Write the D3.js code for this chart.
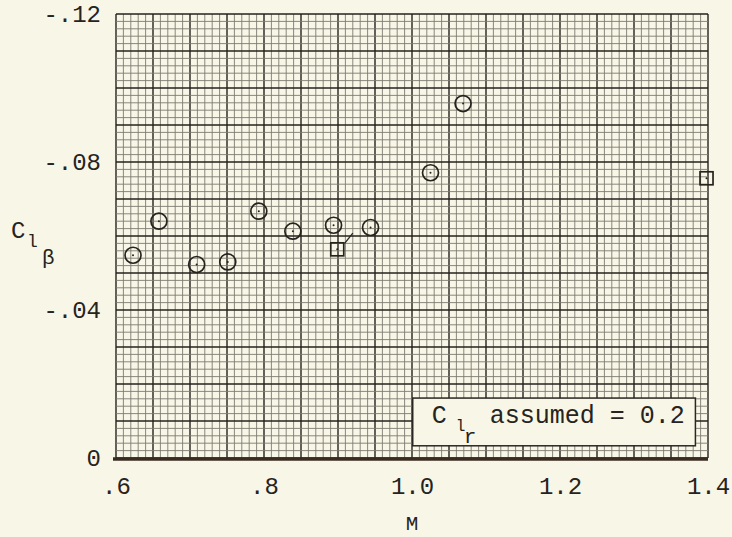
<!DOCTYPE html>
<html>
<head>
<meta charset="utf-8">
<script src="https://cdn.jsdelivr.net/npm/d3@7/dist/d3.min.js"></script>
<style>
  html, body { margin: 0; padding: 0; background: #f8f6e7; }
  svg { display: block; }
  text { font-family: "Courier New", "Nimbus Mono PS", "FreeMono", "Liberation Mono", monospace; fill: #262320; }
</style>
</head>
<body>
<svg id="chart" width="732" height="537"></svg>
<script>
// Measured points (open circles) and the two square points
const circleMach = [0.623, 0.658, 0.709, 0.751, 0.793, 0.839, 0.894, 0.944, 1.025, 1.069];
const circleClb  = [-0.0548, -0.064, -0.0523, -0.053, -0.0667, -0.0613, -0.0629, -0.0623, -0.0771, -0.0958];
const squareMach = [0.899, 1.398];
const squareClb  = [-0.0564, -0.0756];

const xTicks = [0.6, 0.8, 1.0, 1.2, 1.4];
const xTickLabels = [".6", ".8", "1.0", "1.2", "1.4"];
const yTicks = [0, -0.04, -0.08, -0.12];
const yTickLabels = ["0", "-.04", "-.08", "-.12"];

// leader from the lower square toward the circle, and the note box (data units)
const leaderMach = [0.909, 0.92];
const leaderClb  = [-0.058, -0.0608];
const noteBoxMach = [1.001, 1.383];
const noteBoxClb  = [-0.0162, -0.0033];

const svg = d3.select("#chart");
const x = d3.scaleLinear().domain([0.6, 1.4]).range([116, 708]);
const y = d3.scaleLinear().domain([0, -0.12]).range([458, 14]);

// graph paper: fine lines each 0.01 in M and 0.002 in C, heavy every fifth
const grid = svg.append("g").attr("class", "grid");
const vIdx = d3.range(0, 81);
const hIdx = d3.range(0, 61);
grid.selectAll("line.v").data(vIdx).enter().append("line")
  .attr("class", "v")
  .attr("x1", (i) => x(0.6 + i * 0.01)).attr("x2", (i) => x(0.6 + i * 0.01))
  .attr("y1", y(0)).attr("y2", y(-0.12))
  .attr("stroke", (i) => (i % 5 === 0 ? "#24221d" : "#7d7a71"))
  .attr("stroke-width", (i) => (i % 5 === 0 ? 1.4 : 0.9));
grid.selectAll("line.h").data(hIdx).enter().append("line")
  .attr("class", "h")
  .attr("y1", (i) => y(-i * 0.002)).attr("y2", (i) => y(-i * 0.002))
  .attr("x1", x(0.6)).attr("x2", x(1.4))
  .attr("stroke", (i) => (i % 5 === 0 ? "#24221d" : "#7d7a71"))
  .attr("stroke-width", (i) => (i % 5 === 0 ? 1.4 : 0.9));

// heavy zero line at the bottom
svg.append("line")
  .attr("x1", x(0.6) - 3).attr("x2", x(1.4))
  .attr("y1", y(0) + 1).attr("y2", y(0) + 1)
  .attr("stroke", "#3a2c22").attr("stroke-width", 3.5);

// note box, covering the paper
const nb = svg.append("g").attr("class", "note");
nb.append("rect")
  .attr("x", x(noteBoxMach[0])).attr("y", y(noteBoxClb[0]))
  .attr("width", x(noteBoxMach[1]) - x(noteBoxMach[0]))
  .attr("height", y(noteBoxClb[1]) - y(noteBoxClb[0]))
  .attr("fill", "#f8f6e7").attr("stroke", "#2a2723").attr("stroke-width", 1.5);
const nx = x(noteBoxMach[0]), ny = y(noteBoxClb[0]);
nb.append("text").attr("x", nx + 19).attr("y", ny + 25).attr("font-size", 25).text("C");
nb.append("text").attr("x", nx + 43).attr("y", ny + 33).attr("font-size", 16).text("l");
nb.append("text").attr("x", nx + 51).attr("y", ny + 45).attr("font-size", 21).text("r");
nb.append("text")
  .attr("x", nx + 77).attr("y", ny + 25)
  .attr("font-size", 25).text("assumed = 0.2");

// axes
const xAxis = svg.append("g")
  .attr("transform", `translate(0,${y(0)})`)
  .call(d3.axisBottom(x).tickValues(xTicks).tickFormat((d, i) => xTickLabels[i]).tickSize(0).tickPadding(19));
xAxis.select(".domain").remove();
xAxis.attr("font-family", null);
xAxis.selectAll("text").attr("font-size", 24).attr("fill", "#262320");

const yAxis = svg.append("g")
  .attr("transform", `translate(${x(0.6)},0)`)
  .call(d3.axisLeft(y).tickValues(yTicks).tickFormat((d, i) => yTickLabels[i]).tickSize(0).tickPadding(15));
yAxis.select(".domain").remove();
yAxis.attr("font-family", null);
yAxis.selectAll("text").attr("font-size", 24).attr("fill", "#262320");

svg.append("text").attr("x", 412).attr("y", 530)
  .attr("text-anchor", "middle").attr("font-size", 21).text("M");

svg.append("text").attr("x", 11).attr("y", 238).attr("font-size", 24).text("C");
svg.append("text").attr("x", 27).attr("y", 247).attr("font-size", 18).text("l");
svg.append("text").attr("x", 42).attr("y", 264).attr("font-size", 21).text("β");

// leader line
svg.append("line")
  .attr("x1", x(leaderMach[0])).attr("y1", y(leaderClb[0]))
  .attr("x2", x(leaderMach[1])).attr("y2", y(leaderClb[1]))
  .attr("stroke", "#2a2723").attr("stroke-width", 1.3);

// points
const circles = circleMach.map((m, i) => ({ m, c: circleClb[i] }));
const pts = svg.append("g").selectAll("g.pt").data(circles).enter().append("g")
  .attr("transform", (d) => `translate(${x(d.m)},${y(d.c)})`);
pts.append("circle").attr("r", 8).attr("fill", "none")
  .attr("stroke", "#26231f").attr("stroke-width", 1.7);
pts.append("circle").attr("r", 1).attr("fill", "#26231f");

const squares = squareMach.map((m, i) => ({ m, c: squareClb[i] }));
const sq = svg.append("g").selectAll("g.sq").data(squares).enter().append("g")
  .attr("transform", (d) => `translate(${x(d.m)},${y(d.c)})`);
sq.append("rect").attr("x", -6.5).attr("y", -6.5).attr("width", 13).attr("height", 13)
  .attr("fill", "none").attr("stroke", "#26231f").attr("stroke-width", 1.7);
sq.append("circle").attr("r", 1).attr("fill", "#26231f");
</script>
</body>
</html>
